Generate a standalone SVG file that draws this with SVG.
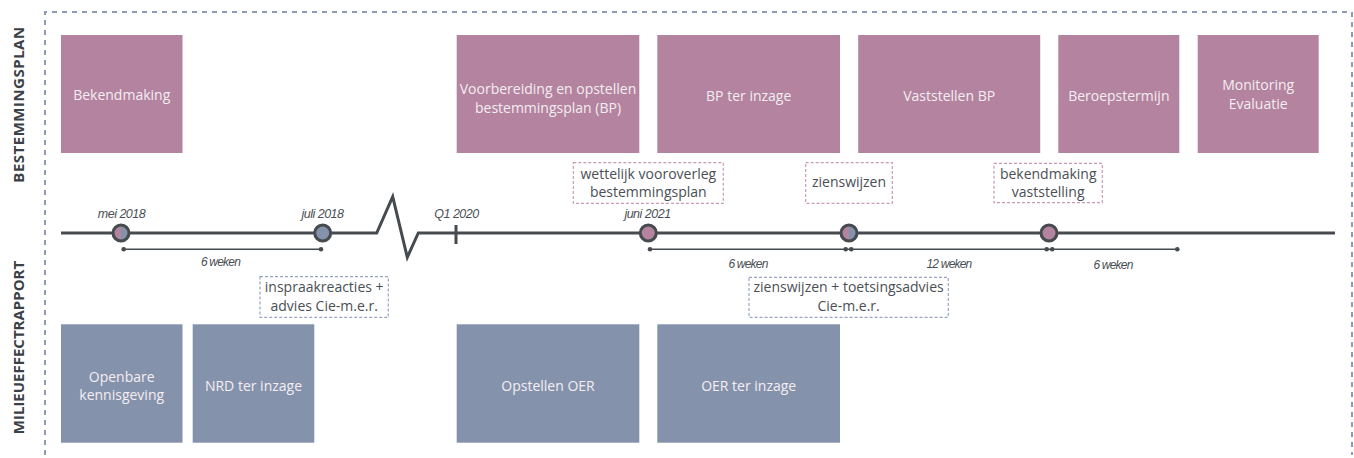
<svg xmlns="http://www.w3.org/2000/svg" width="1354" height="458" viewBox="0 0 1354 458">
<style>
.frame{fill:none;stroke:#8f9ab5;stroke-width:2;stroke-dasharray:5 5}
.bp{fill:#b3839f}
.mer{fill:#8592ac}
.bt{font-family:"Open Sans","Liberation Sans",sans-serif;font-size:14px;fill:#f4eef2;text-anchor:middle}
.ct{font-family:"Open Sans","Liberation Sans",sans-serif;font-size:14px;fill:#4a4f55;text-anchor:middle}
.cp{fill:#fff;stroke:#c99ab8;stroke-width:1.2;stroke-dasharray:3 2}
.cb{fill:#fff;stroke:#9aa5bf;stroke-width:1.2;stroke-dasharray:3 2}
.dt{font-family:"Liberation Sans",sans-serif;font-style:italic;font-size:12.5px;letter-spacing:-0.5px;fill:#4a4f55;text-anchor:middle}
.wk{font-family:"Liberation Sans",sans-serif;font-style:italic;font-size:12px;letter-spacing:-0.8px;fill:#4a4f55;text-anchor:middle}
.side{font-family:"Open Sans","Liberation Sans",sans-serif;font-weight:bold;font-size:15px;fill:#3c4147;text-anchor:middle}
.tl{fill:none;stroke:#464b50;stroke-width:3;stroke-linejoin:miter}
.dur{stroke:#464b50;stroke-width:1.5}
.dot{fill:#464b50}
.ms{fill:none;stroke:#464b50;stroke-width:3}
</style>
<g id="frame">
<path class="frame" d="M45,455 V12 H1352 V455"/>
</g>
<g id="labels">
<text class="side" letter-spacing="0.5" transform="translate(24,104.5) rotate(-90)">BESTEMMINGSPLAN</text>
<text class="side" transform="translate(24,347.5) rotate(-90)">MILIEUEFFECTRAPPORT</text>
</g>
<g id="bp-bekendmaking"><rect class="bp" x="61" y="35" width="121.5" height="118"/><text class="bt" x="121.7" y="100">Bekendmaking</text></g>
<g id="bp-voorbereiding"><rect class="bp" x="456.7" y="35" width="182.6" height="118"/><text class="bt" x="548" y="94">Voorbereiding en opstellen</text><text class="bt" x="548" y="113">bestemmingsplan (BP)</text></g>
<g id="bp-inzage"><rect class="bp" x="657.3" y="35" width="182.7" height="118"/><text class="bt" x="748.7" y="100.5">BP ter inzage</text></g>
<g id="bp-vaststellen"><rect class="bp" x="858.2" y="35" width="182" height="118"/><text class="bt" x="949.2" y="100.5">Vaststellen BP</text></g>
<g id="bp-beroep"><rect class="bp" x="1058.3" y="35" width="121" height="118"/><text class="bt" x="1118.8" y="100.5">Beroepstermijn</text></g>
<g id="bp-monitoring"><rect class="bp" x="1197.7" y="35" width="121" height="118"/><text class="bt" x="1258.2" y="90">Monitoring</text><text class="bt" x="1258.2" y="109">Evaluatie</text></g>
<g id="mer-openbare"><rect class="mer" x="61" y="324.3" width="121.5" height="118.4"/><text class="bt" x="121.7" y="381.5">Openbare</text><text class="bt" x="121.7" y="400">kennisgeving</text></g>
<g id="mer-nrd"><rect class="mer" x="192.7" y="324.3" width="121.6" height="118.4"/><text class="bt" x="253.5" y="390.5">NRD ter inzage</text></g>
<g id="mer-opstellen"><rect class="mer" x="456.7" y="324.3" width="182.6" height="118.4"/><text class="bt" x="548" y="390.5">Opstellen OER</text></g>
<g id="mer-inzage"><rect class="mer" x="657.3" y="324.3" width="182.7" height="118.4"/><text class="bt" x="748.7" y="390.5">OER ter inzage</text></g>
<g id="callout-inspraak"><rect class="cb" x="260" y="276.7" width="128.3" height="40.6"/><text class="ct" x="324.2" y="291.5">inspraakreacties +</text><text class="ct" x="324.2" y="311">advies Cie-m.e.r.</text></g>
<g id="callout-vooroverleg"><rect class="cp" x="573.3" y="162.7" width="150" height="40.6"/><text class="ct" x="648.3" y="179.3">wettelijk vooroverleg</text><text class="ct" x="648.3" y="196.7">bestemmingsplan</text></g>
<g id="callout-zienswijzen"><rect class="cp" x="805.7" y="162.7" width="86.6" height="40.6"/><text class="ct" x="849" y="187">zienswijzen</text></g>
<g id="callout-bekendmaking"><rect class="cp" x="994" y="163.3" width="108.3" height="39.4"/><text class="ct" x="1048.2" y="179.3">bekendmaking</text><text class="ct" x="1048.2" y="197.2">vaststelling</text></g>
<g id="callout-toetsing"><rect class="cb" x="749" y="277.3" width="199.3" height="40"/><text class="ct" x="848.6" y="291.5">zienswijzen + toetsingsadvies</text><text class="ct" x="848.6" y="311">Cie-m.e.r.</text></g>
<g id="connectors">
<path class="tl" d="M61,233 H376.7 L392.7,196.7 L407.3,257.3 L418.3,233 H1335"/>
<line class="tl" x1="456" y1="225" x2="456" y2="244"/>
<line class="dur" x1="123.7" y1="249.3" x2="321" y2="249.3"/>
<circle class="dot" cx="123.7" cy="249.3" r="2.3"/><circle class="dot" cx="321" cy="249.3" r="2.3"/>
<line class="dur" x1="650" y1="249.3" x2="1177.3" y2="249.3"/>
<circle class="dot" cx="650" cy="249.3" r="2.3"/>
<circle class="dot" cx="845.7" cy="249.3" r="2.3"/><circle class="dot" cx="851.2" cy="249.3" r="2.3"/>
<circle class="dot" cx="1046.7" cy="249.3" r="2.3"/><circle class="dot" cx="1052.2" cy="249.3" r="2.3"/>
<circle class="dot" cx="1177.3" cy="249.3" r="2.3"/>
</g>
<g id="milestones">
<path class="bp" d="M121,225 A8,8 0 0,0 121,241 Z"/><path class="mer" d="M121,225 A8,8 0 0,1 121,241 Z"/><circle class="ms" cx="121" cy="233" r="8"/>
<circle class="mer" cx="322.7" cy="233" r="8"/><circle class="ms" cx="322.7" cy="233" r="8"/>
<circle class="bp" cx="648.3" cy="233" r="8"/><circle class="ms" cx="648.3" cy="233" r="8"/>
<path class="bp" d="M849,225 A8,8 0 0,0 849,241 Z"/><path class="mer" d="M849,225 A8,8 0 0,1 849,241 Z"/><circle class="ms" cx="849" cy="233" r="8"/>
<circle class="bp" cx="1049" cy="233" r="8"/><circle class="ms" cx="1049" cy="233" r="8"/>
</g>
<g id="dates">
<text class="dt" x="121.5" y="218">mei 2018</text>
<text class="dt" x="322.5" y="218">juli 2018</text>
<text class="dt" x="456.5" y="218">Q1 2020</text>
<text class="dt" x="647.5" y="218">juni 2021</text>
<text class="wk" x="220.5" y="265.5">6 weken</text>
<text class="wk" x="748" y="268">6 weken</text>
<text class="wk" x="949" y="267.5">12 weken</text>
<text class="wk" x="1113" y="268.5">6 weken</text>
</g>
</svg>
